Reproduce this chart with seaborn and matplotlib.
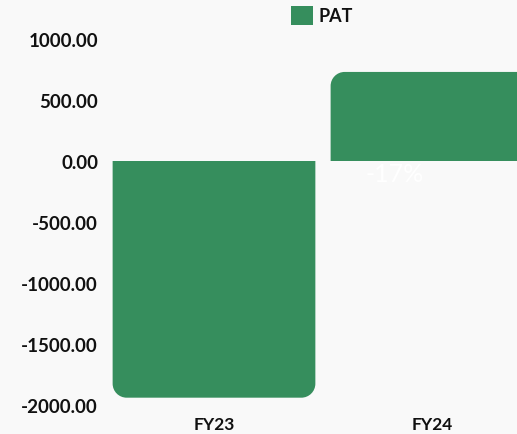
import matplotlib
matplotlib.use("Agg")
import matplotlib.pyplot as plt
import pandas as pd
import seaborn as sns
from matplotlib.path import Path
from matplotlib.patches import PathPatch

years = ["FY23", "FY24"]
pat = [-1940.0, 730.0]
change_label = "-17%"
y_ticks = [-2000, -1500, -1000, -500, 0, 500, 1000]

bar_color = "#368e5d"
bg_color = "#f9f9f9"

sns.set_theme(style="white")
plt.rcParams["font.family"] = ["Lato", "DejaVu Sans"]

df = pd.DataFrame({"year": years, "PAT": pat, "series": "PAT"})

fig = plt.figure(figsize=(5.17, 4.35), dpi=100)
fig.patch.set_facecolor(bg_color)
ax = fig.add_axes([105 / 517, 29 / 435, 412 / 517, 366 / 435])
ax.set_facecolor(bg_color)

sns.barplot(data=df, x="year", y="PAT", hue="series", palette=[bar_color],
            width=0.93, ax=ax, legend=False)

ax.set_xlim(-0.5, 1.39)
ax.set_ylim(-2000, 1000)


def rounded_bar(x0, x1, y0, y1, rx, ry):
    # round the corners at the value end (y1) of the bar
    k = 0.5523
    s = 1 if y1 > y0 else -1
    verts = [
        (x0, y0),
        (x0, y1 - s * ry),
        (x0, y1 - s * ry + s * k * ry), (x0 + rx - k * rx, y1), (x0 + rx, y1),
        (x1 - rx, y1),
        (x1 - rx + k * rx, y1), (x1, y1 - s * ry + s * k * ry), (x1, y1 - s * ry),
        (x1, y0),
        (x0, y0),
    ]
    codes = [Path.MOVETO, Path.LINETO,
             Path.CURVE4, Path.CURVE4, Path.CURVE4,
             Path.LINETO,
             Path.CURVE4, Path.CURVE4, Path.CURVE4,
             Path.LINETO, Path.CLOSEPOLY]
    return Path(verts, codes)


radius_px = 14
rx = radius_px / (412 / (1.39 + 0.5))
ry = radius_px / (366 / 3000)
for p in list(ax.patches):
    x0 = p.get_x()
    x1 = x0 + p.get_width()
    h = p.get_height()
    if h == 0:
        continue
    p.set_visible(False)
    ax.add_patch(PathPatch(rounded_bar(x0, x1, 0, h, rx, ry),
                           facecolor=bar_color, edgecolor="none", zorder=2))

ax.text(0.83, -100, change_label, color="white", fontsize=18,
        ha="center", va="center", zorder=3)

ax.set_yticks(y_ticks)
ax.set_yticklabels([f"{v:.2f}" for v in y_ticks])
ax.tick_params(axis="y", length=0, pad=5, labelsize=13.5)
ax.tick_params(axis="x", length=0, pad=8, labelsize=12.5)
for lbl in ax.get_xticklabels() + ax.get_yticklabels():
    lbl.set_fontweight("bold")
    lbl.set_color("#111111")
ax.set_xlabel("")
ax.set_ylabel("")
sns.despine(ax=ax, left=True, bottom=True, right=True, top=True)

handle = plt.Rectangle((0, 0), 1, 1, facecolor=bar_color, edgecolor="none")
leg = fig.legend([handle], ["PAT"], loc="upper left",
                 bbox_to_anchor=(291 / 517, 1 - 7 / 435), frameon=False,
                 borderpad=0, borderaxespad=0,
                 handlelength=1.2, handleheight=1.2, handletextpad=0.3,
                 prop={"family": "Lato", "weight": "bold", "size": 13})
for t in leg.get_texts():
    t.set_color("#111111")

fig.savefig("out.png", dpi=100, facecolor=bg_color)
